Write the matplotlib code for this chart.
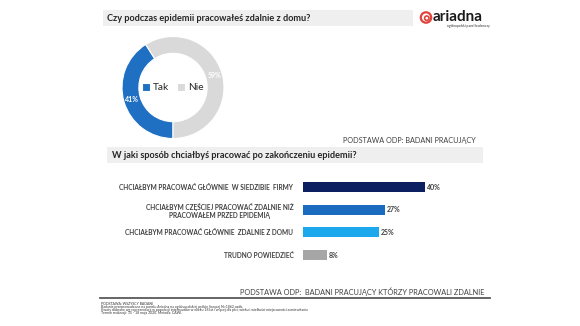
import matplotlib.pyplot as plt
from matplotlib.patches import Rectangle, Circle

plt.rcParams['font.family'] = ['Lato', 'DejaVu Sans']

# donut data
donut_labels = ['Tak', 'Nie']
donut_values = [41, 59]
donut_colors = ['#1f6fc2', '#d9d9d9']

# bar data
bar_labels = [
    'CHCIAŁBYM PRACOWAĆ GŁÓWNIE  W SIEDZIBIE  FIRMY',
    'CHCIAŁBYM CZĘŚCIEJ PRACOWAĆ ZDALNIE NIŻ\nPRACOWAŁEM PRZED EPIDEMIĄ',
    'CHCIAŁBYM PRACOWAĆ GŁÓWNIE  ZDALNIE Z DOMU',
    'TRUDNO POWIEDZIEĆ',
]
bar_values = [40, 27, 25, 8]
bar_colors = ['#0c1f60', '#1b6cc0', '#1ca8ec', '#a6a6a6']

footnote_lines = [
    'PODSTAWA: WSZYSCY BADANI',
    'Badanie przeprowadzone na panelu Ariadna na ogólnopolskiej próbie liczącej N=1062 osób.',
    'Kwoty dobrane wg reprezentacji w populacji internautów w wieku 18 lat i więcej dla płci, wieku i wielkości miejscowości zamieszkania',
    'Termin realizacji: 15 - 18 maja 2020. Metoda: CAWI.',
]

W, H = 580, 326
fig = plt.figure(figsize=(W / 100, H / 100), dpi=100)
fig.patch.set_facecolor('white')

# background axes in pixel coords (y down)
bg = fig.add_axes([0, 0, 1, 1])
bg.set_xlim(0, W)
bg.set_ylim(H, 0)
bg.axis('off')

txt_col = '#262626'

# title bands
bg.add_patch(Rectangle((103, 10), 310, 16, color='#efefef', lw=0))
bg.text(107, 18.5, 'Czy podczas epidemii pracowałeś zdalnie z domu?', fontsize=6.6,
        fontweight='bold', color=txt_col, va='center', ha='left')
bg.add_patch(Rectangle((107, 147), 376, 16, color='#efefef', lw=0))
bg.text(112, 155.5, 'W jaki sposób chciałbyś pracować po zakończeniu epidemii?', fontsize=6.6,
        fontweight='bold', color=txt_col, va='center', ha='left')

# logo
bg.add_patch(Circle((426, 17.5), 5.2, fill=False, ec='#e0443a', lw=1.6))
bg.add_patch(Circle((426.8, 18.2), 2.2, fill=False, ec='#e0443a', lw=1.2))
bg.text(433, 17, 'ariadna', fontsize=11, fontweight='bold', color='#1a1a1a',
        va='center', ha='left')
bg.text(490, 25.5, 'ogólnopolski panel badawczy', fontsize=2.4, color='#333333',
        va='center', ha='right')

# base notes
bg.text(476, 140, 'PODSTAWA ODP: BADANI PRACUJĄCY', fontsize=5.2, color='#404040',
        va='center', ha='right')
bg.text(484, 291.5, 'PODSTAWA ODP:  BADANI PRACUJĄCY KTÓRZY PRACOWALI ZDALNIE', fontsize=5.35,
        color='#404040', va='center', ha='right')
bg.plot([100, 490], [298, 298], color='#595959', lw=1.3)
for i, line in enumerate(footnote_lines):
    bg.text(101, 304 + i * 3.1, line, fontsize=2.5, color='#333333', va='center', ha='left')

# donut
cx, cy, r = 173, 87.5, 51
dax = fig.add_axes([(cx - r) / W, (H - cy - r) / H, 2 * r / W, 2 * r / H])
wedges, _, autotexts = dax.pie(
    donut_values, colors=donut_colors, startangle=122.4, counterclock=True,
    wedgeprops=dict(width=0.33, edgecolor='white', linewidth=0.8),
    autopct=lambda p: f'{p:.0f}%', pctdistance=0.84,
    textprops=dict(color='white', fontsize=5, fontweight='bold'))
dax.set_xlim(-1, 1)
dax.set_ylim(-1, 1)
dax.legend(wedges, donut_labels, loc='center', ncol=2, frameon=False, fontsize=7.3,
           handlelength=0.8, handleheight=0.8, handletextpad=0.3, columnspacing=0.8,
           labelcolor=txt_col)

# bars
x0, px_per = 303, 3.05
top, step = 187, 22.67
bax = fig.add_axes([x0 / W, (H - (top + 3.5 * step)) / H, 40 * px_per / W, 4 * step / H])
ypos = list(range(len(bar_values)))
bax.barh(ypos, bar_values, color=bar_colors, height=0.44)
bax.set_xlim(0, 40)
bax.set_ylim(3.5, -0.5)
bax.set_yticks(ypos)
bax.set_yticklabels(bar_labels, fontsize=4.7, fontweight='bold', color='#404040',
                    multialignment='center')
bax.tick_params(axis='y', length=0, pad=7)
bax.set_xticks([])
for s in bax.spines.values():
    s.set_visible(False)
for yp, v in zip(ypos, bar_values):
    bax.text(v + 0.6, yp, f'{v}%', fontsize=5, fontweight='bold', color='#404040',
             va='center', ha='left', clip_on=False)

fig.savefig('out.png', dpi=100)
